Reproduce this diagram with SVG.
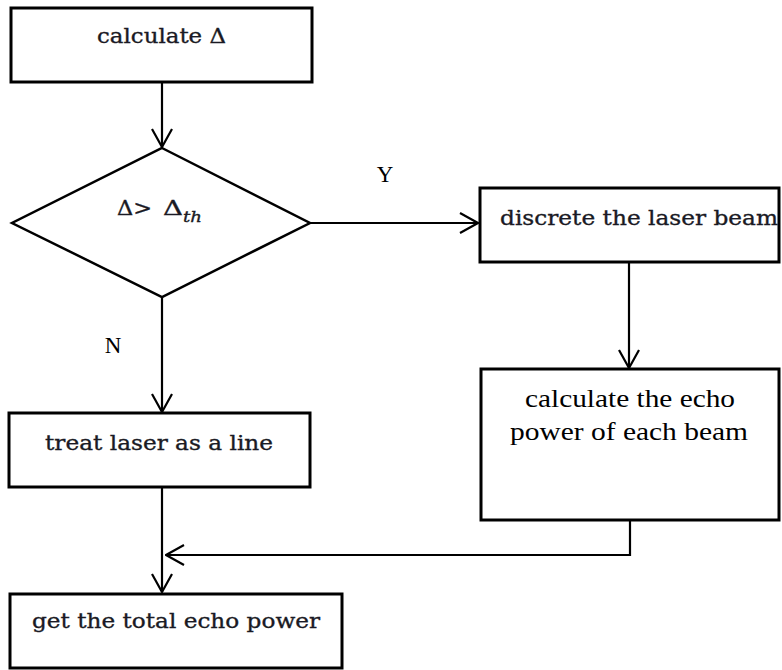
<svg xmlns="http://www.w3.org/2000/svg" width="782" height="670" viewBox="0 0 782 670">
<style>
.box{fill:#fff;stroke:#000;stroke-width:3}
.con{fill:none;stroke:#000;stroke-width:2.2}
.t{font-family:"DejaVu Serif","Liberation Serif",serif;font-size:21px;fill:#1a1a24;stroke:#1a1a24;stroke-width:0.35}
.c{font-family:"Liberation Serif","DejaVu Serif",serif;font-size:25px;fill:#000}
.lbl{font-family:"Liberation Serif",serif;font-size:23px;fill:#000}
</style>
<defs>
<marker id="arr" viewBox="0 0 20 22" refX="19" refY="11" markerWidth="20" markerHeight="22" markerUnits="userSpaceOnUse" orient="auto">
<path d="M1,1 L19,11 L1,21" fill="none" stroke="#000" stroke-width="2.2"/>
</marker>
</defs>
<rect width="782" height="670" fill="#fff"/>
<g id="connectors">
<line class="con" x1="162" y1="82" x2="162" y2="147" marker-end="url(#arr)"/>
<line class="con" x1="310" y1="223" x2="478" y2="223" marker-end="url(#arr)"/>
<line class="con" x1="629" y1="262" x2="629" y2="368" marker-end="url(#arr)"/>
<line class="con" x1="162" y1="297" x2="162" y2="412" marker-end="url(#arr)"/>
<line class="con" x1="162" y1="487" x2="162" y2="592" marker-end="url(#arr)"/>
<polyline class="con" points="630,520 630,555 166,555" marker-end="url(#arr)"/>
</g>
<g id="n_calc">
<rect class="box" x="11" y="8" width="301" height="74"/>
<text class="t" x="97" y="43" textLength="129" lengthAdjust="spacingAndGlyphs">calculate Δ</text>
</g>
<g id="n_decision">
<polygon points="162,148 310,223 162,297 12,223" fill="#fff" stroke="#000" stroke-width="2.5"/>
<text class="t" x="117" y="215"><tspan textLength="35" lengthAdjust="spacingAndGlyphs">Δ&gt;</tspan><tspan x="163" textLength="20" lengthAdjust="spacingAndGlyphs">Δ</tspan><tspan x="183" y="222" font-size="15" font-style="italic" textLength="19" lengthAdjust="spacingAndGlyphs">th</tspan></text>
</g>
<g id="n_discrete">
<rect class="box" x="480" y="188" width="299" height="74"/>
<text class="t" x="500" y="225" textLength="278" lengthAdjust="spacingAndGlyphs">discrete the laser beam</text>
</g>
<g id="n_echo">
<rect class="box" x="481" y="369" width="298" height="151"/>
<text class="c" x="630" y="407" text-anchor="middle" textLength="210" lengthAdjust="spacingAndGlyphs">calculate the echo</text>
<text class="c" x="629" y="440" text-anchor="middle" textLength="238" lengthAdjust="spacingAndGlyphs">power of each beam</text>
</g>
<g id="n_line">
<rect class="box" x="9" y="413" width="301" height="74"/>
<text class="t" x="45" y="450" textLength="228" lengthAdjust="spacingAndGlyphs">treat laser as a line</text>
</g>
<g id="n_total">
<rect class="box" x="10" y="594" width="332" height="74"/>
<text class="t" x="32" y="628" textLength="288" lengthAdjust="spacingAndGlyphs">get the total echo power</text>
</g>
<text class="lbl" x="385" y="182" text-anchor="middle">Y</text>
<text class="lbl" x="113" y="353" text-anchor="middle">N</text>
</svg>
